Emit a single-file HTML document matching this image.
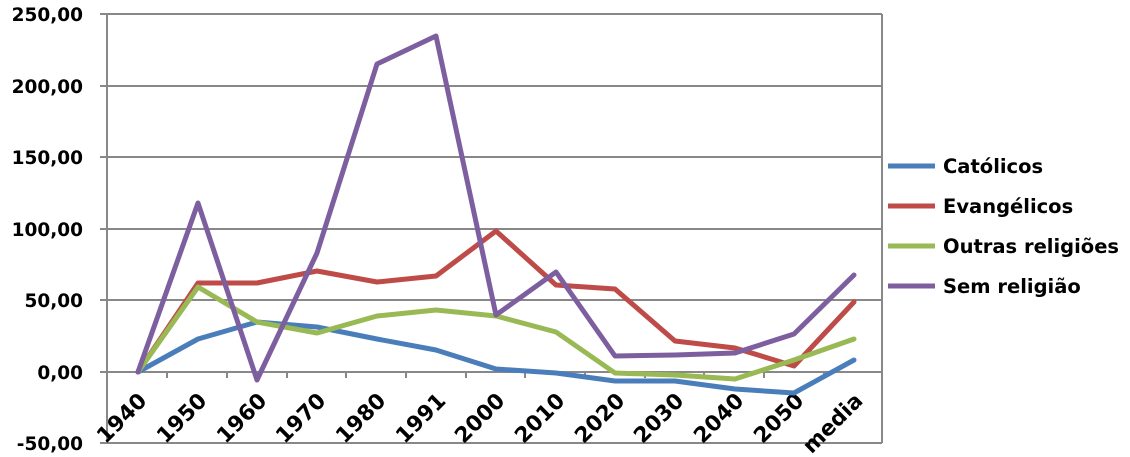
<!DOCTYPE html>
<html><head><style>body{margin:0;background:#fff}svg{display:block}text{font-family:"DejaVu Sans","Liberation Sans",sans-serif;font-weight:bold;fill:#000}</style></head><body>
<svg width="1130" height="457" xmlns="http://www.w3.org/2000/svg">
<g stroke="#888" stroke-width="2">
<line x1="100" y1="14" x2="882" y2="14"/><line x1="100" y1="86" x2="882" y2="86"/><line x1="100" y1="157" x2="882" y2="157"/><line x1="100" y1="229" x2="882" y2="229"/><line x1="100" y1="300" x2="882" y2="300"/><line x1="100" y1="443" x2="882" y2="443"/>
<line x1="100" y1="372" x2="882" y2="372"/>
<line x1="107" y1="14" x2="107" y2="443"/><line x1="882" y1="14" x2="882" y2="443"/>
<path d="M167,372v6M227,372v6M287,372v6M346,372v6M406,372v6M466,372v6M525,372v6M585,372v6M645,372v6M704,372v6M764,372v6M824,372v6"/>
</g>
<g font-size="18.5" text-anchor="end">
<text x="83" y="21">250,00</text><text x="83" y="93">200,00</text><text x="83" y="164">150,00</text><text x="83" y="236">100,00</text><text x="83" y="307">50,00</text><text x="83" y="379">0,00</text><text x="83" y="450">-50,00</text>
</g>
<g font-size="21.5" text-anchor="end">
<text transform="translate(148,402) rotate(-45)">1940</text>
<text transform="translate(208,402) rotate(-45)">1950</text>
<text transform="translate(268,402) rotate(-45)">1960</text>
<text transform="translate(327,402) rotate(-45)">1970</text>
<text transform="translate(387,402) rotate(-45)">1980</text>
<text transform="translate(447,402) rotate(-45)">1991</text>
<text transform="translate(506,402) rotate(-45)">2000</text>
<text transform="translate(566,402) rotate(-45)">2010</text>
<text transform="translate(626,402) rotate(-45)">2020</text>
<text transform="translate(685,402) rotate(-45)">2030</text>
<text transform="translate(745,402) rotate(-45)">2040</text>
<text transform="translate(805,402) rotate(-45)">2050</text>
<text transform="translate(864,402) rotate(-45)">media</text>
</g>
<g fill="none" stroke-width="5" stroke-linejoin="round" stroke-linecap="round">
<polyline stroke="#4a7ebb" points="138,372 198,339 257,322 317,327 377,339 436,350 496,369 556,373 615,381 675,381 735,389 794,393 854,360"/>
<polyline stroke="#be4b48" points="138,372 198,283 257,283 317,271 377,282 436,276 496,231 556,285 615,289 675,341 735,348 794,366 854,302"/>
<polyline stroke="#98b954" points="138,372 198,287 257,322 317,333 377,316 436,310 496,316 556,332 615,373 675,375 735,379 794,360 854,339"/>
<polyline stroke="#7d5fa0" points="138,372 198,203 257,380 317,253 377,64 436,36 496,315 556,272 615,356 675,355 735,353 794,334 854,275"/>
</g>
<g stroke-width="5">
<line x1="888" y1="166" x2="935" y2="166" stroke="#4a7ebb"/>
<line x1="888" y1="206" x2="935" y2="206" stroke="#be4b48"/>
<line x1="888" y1="246" x2="935" y2="246" stroke="#98b954"/>
<line x1="888" y1="286" x2="935" y2="286" stroke="#7d5fa0"/>
</g>
<g font-size="19.5">
<text x="943" y="173">Católicos</text><text x="943" y="213">Evangélicos</text><text x="943" y="253">Outras religiões</text><text x="943" y="293">Sem religião</text>
</g>
</svg>
</body></html>
